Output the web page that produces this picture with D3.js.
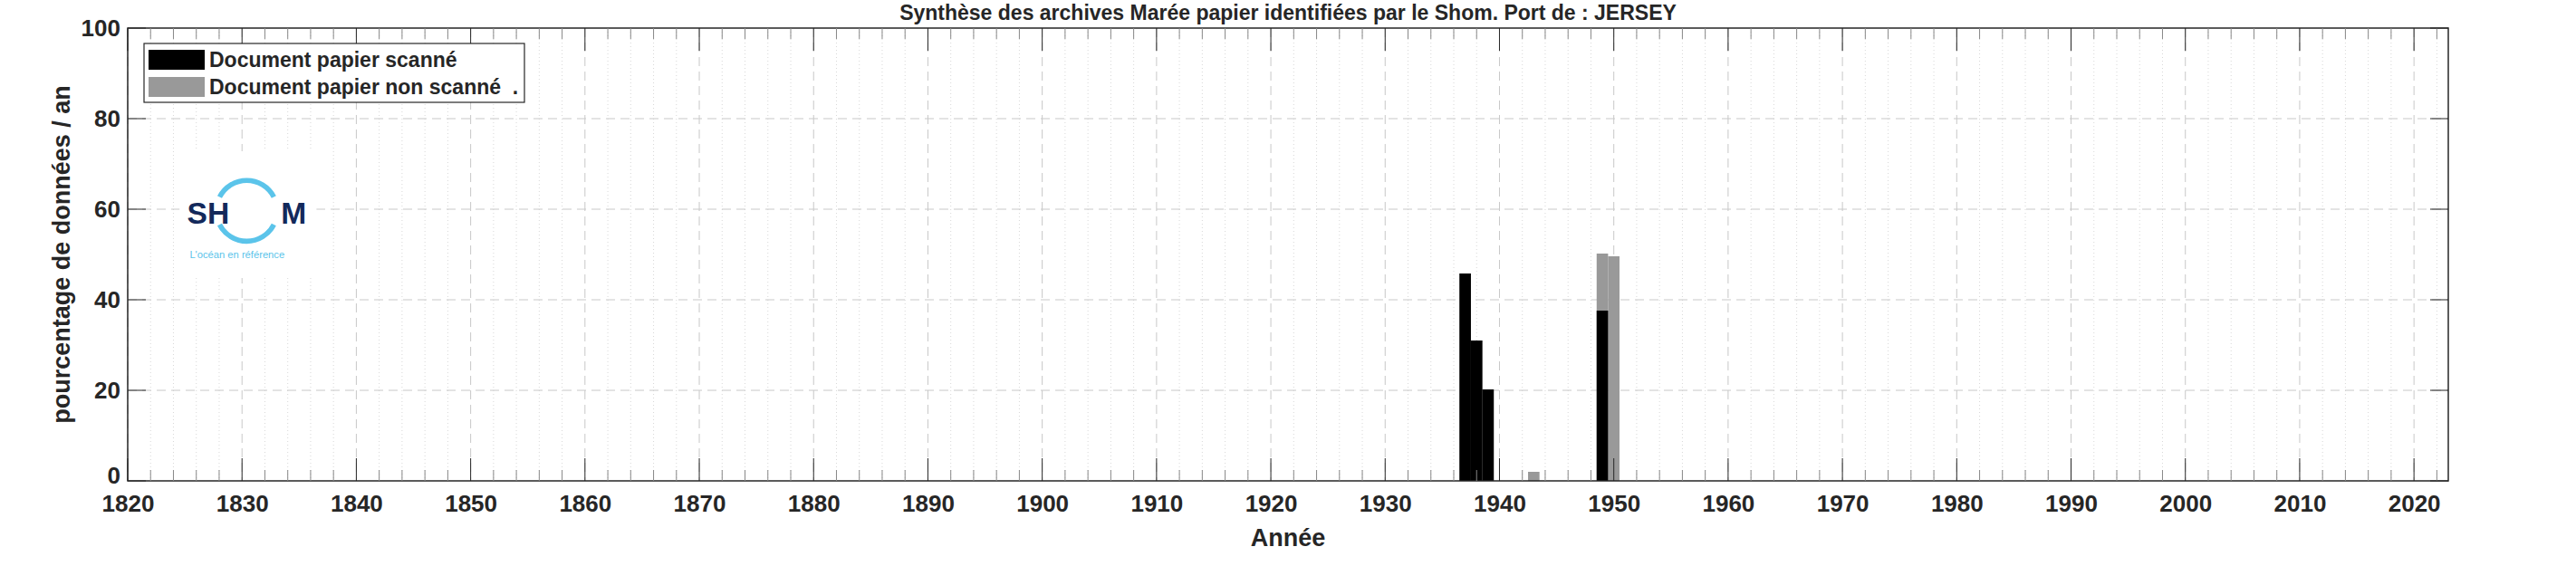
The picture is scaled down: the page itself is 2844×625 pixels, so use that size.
<!DOCTYPE html>
<html><head><meta charset="utf-8">
<script src="https://cdn.jsdelivr.net/npm/d3@7"></script>
<style>
body{margin:0;background:#fff;}
text{font-family:"Liberation Sans",Arial,sans-serif;font-weight:bold;fill:#262626;}
</style></head>
<body><div id="chart"></div>
<script>
const years = [1937, 1938, 1939, 1943, 1949, 1950];
const scanned = [45.8, 31, 20.2, 0, 37.6, 0];
const notScanned = [0, 0, 0, 2, 12.6, 49.6];
const yTicks = [0, 20, 40, 60, 80, 100];
const xTicks = d3.range(1820, 2021, 10);
const seriesNames = ['Document papier scanné', 'Document papier non scanné  .'];

const W = 2844, H = 625;
const margin = {left: 141, top: 31, right: 141, bottom: 94};
const width = W - margin.left - margin.right;
const height = H - margin.top - margin.bottom;

const xScale = d3.scaleLinear().domain([1820, 2023]).range([0, width]);
const yScale = d3.scaleLinear().domain([0, 100]).range([height, 0]);

const svg = d3.select('#chart').append('svg')
  .attr('width', W).attr('height', H)
  .append('g')
  .attr('transform', `translate(${margin.left},${margin.top})`);

const minor = d3.range(1822, 2023, 2).filter((d) => d % 10 !== 0);

// minor grid (dotted, every 2 years)
svg.append('g').selectAll('line')
  .data(minor)
  .enter().append('line')
  .attr('x1', (d) => xScale(d)).attr('x2', (d) => xScale(d))
  .attr('y1', 0).attr('y2', height)
  .attr('stroke', '#d8d8d8').attr('stroke-dasharray', '1,3');

// major grid
svg.append('g').selectAll('line')
  .data(xTicks)
  .enter().append('line')
  .attr('x1', (d) => xScale(d)).attr('x2', (d) => xScale(d))
  .attr('y1', 0).attr('y2', height)
  .attr('stroke', '#c8c8c8').attr('stroke-dasharray', '10,6');
svg.append('g').selectAll('line')
  .data(yTicks.slice(1, -1))
  .enter().append('line')
  .attr('x1', 0).attr('x2', width)
  .attr('y1', (d) => yScale(d)).attr('y2', (d) => yScale(d))
  .attr('stroke', '#c8c8c8').attr('stroke-dasharray', '10,6');

// bars
const bw = xScale(1821) - xScale(1820);
svg.append('g').selectAll('rect')
  .data(years.map((y, i) => ({y, a: scanned[i], b: notScanned[i]})))
  .enter().append('rect')
  .attr('x', (d) => xScale(d.y) - bw / 2).attr('width', bw)
  .attr('y', (d) => yScale(d.a + d.b))
  .attr('height', (d) => height - yScale(d.a + d.b))
  .attr('fill', '#999999');
svg.append('g').selectAll('rect')
  .data(years.map((y, i) => ({y, a: scanned[i]})).filter((d) => d.a > 0))
  .enter().append('rect')
  .attr('x', (d) => xScale(d.y) - bw / 2).attr('width', bw)
  .attr('y', (d) => yScale(d.a))
  .attr('height', (d) => height - yScale(d.a))
  .attr('fill', '#000');

// box
svg.append('rect').attr('width', width).attr('height', height)
  .attr('fill', 'none').attr('stroke', '#262626').attr('stroke-width', 1.5);

// ticks (inward)
[[0, 1], [height, -1]].forEach(([y0, s]) => {
  svg.append('g').selectAll('line').data(minor).enter().append('line')
    .attr('x1', (d) => xScale(d)).attr('x2', (d) => xScale(d))
    .attr('y1', y0).attr('y2', y0 + s * 12).attr('stroke', '#888');
  svg.append('g').selectAll('line').data(xTicks).enter().append('line')
    .attr('x1', (d) => xScale(d)).attr('x2', (d) => xScale(d))
    .attr('y1', y0).attr('y2', y0 + s * 25).attr('stroke', '#262626');
});
[[0, 1], [width, -1]].forEach(([x0, s]) => {
  svg.append('g').selectAll('line').data(yTicks).enter().append('line')
    .attr('x1', x0).attr('x2', x0 + s * 20)
    .attr('y1', (d) => yScale(d)).attr('y2', (d) => yScale(d)).attr('stroke', '#262626');
});

// tick labels
svg.append('g').attr('transform', `translate(0,${height})`)
  .call(d3.axisBottom(xScale).tickValues(xTicks).tickFormat(d3.format('d')).tickSize(0).tickPadding(16))
  .call((g) => g.select('.domain').remove())
  .selectAll('text').attr('font-size', 26).attr('fill', '#262626')
  .style('font-family', '"Liberation Sans",Arial,sans-serif');
svg.append('g')
  .call(d3.axisLeft(yScale).tickValues(yTicks).tickSize(0).tickPadding(8))
  .call((g) => g.select('.domain').remove())
  .selectAll('text').attr('font-size', 26).attr('fill', '#262626')
  .attr('dy', (d) => (d === 0 ? '0.1em' : '0.32em'))
  .style('font-family', '"Liberation Sans",Arial,sans-serif');

// labels
svg.append('text').attr('text-anchor', 'middle')
  .attr('x', width / 2).attr('y', height + 72).attr('font-size', 27)
  .text('Année');
svg.append('text').attr('text-anchor', 'middle')
  .attr('transform', `translate(-64,${height / 2}) rotate(-90)`)
  .attr('font-size', 27)
  .text('pourcentage de données / an');
svg.append('text').attr('text-anchor', 'middle')
  .attr('x', width / 2).attr('y', -9).attr('font-size', 23)
  .text('Synthèse des archives Marée papier identifiées par le Shom. Port de : JERSEY');

// legend
const leg = svg.append('g').attr('transform', 'translate(18,17)');
leg.append('rect').attr('width', 420).attr('height', 65)
  .attr('fill', '#fff').attr('stroke', '#262626').attr('stroke-width', 1.2);
seriesNames.forEach((n, i) => {
  leg.append('rect').attr('x', 5).attr('y', 7 + i * 30).attr('width', 62).attr('height', 22)
    .attr('fill', i === 0 ? '#000' : '#999');
  leg.append('text').attr('x', 72).attr('y', 26 + i * 30).attr('font-size', 23)
    .style('white-space', 'pre').attr('fill', '#000').text(n);
});

// logo
const logo = svg.append('g').attr('transform', 'translate(60,150) scale(1.4)');
logo.append('rect').attr('x', -2).attr('y', -10).attr('width', 108).attr('height', 100).attr('fill', '#fff');
const arc = d3.arc().innerRadius(22).outerRadius(26);
logo.append('path').attr('transform', 'translate(51,37)')
  .attr('d', arc({startAngle: -1.1, endAngle: 1.1})).attr('fill', '#5bc4ea');
logo.append('path').attr('transform', 'translate(51,37)')
  .attr('d', arc({startAngle: Math.PI - 1.1, endAngle: Math.PI + 1.1})).attr('fill', '#5bc4ea');
logo.append('text').attr('x', 4).attr('y', 47).attr('font-size', 24)
  .style('fill', '#13295b').text('SH');
logo.append('text').attr('x', 78).attr('y', 47).attr('font-size', 24)
  .style('fill', '#13295b').text('M');
logo.append('text').attr('x', 6).attr('y', 74).attr('font-size', 8)
  .style('fill', '#5bc4ea').style('font-weight', 'normal').text("L'océan en référence");
</script></body></html>
